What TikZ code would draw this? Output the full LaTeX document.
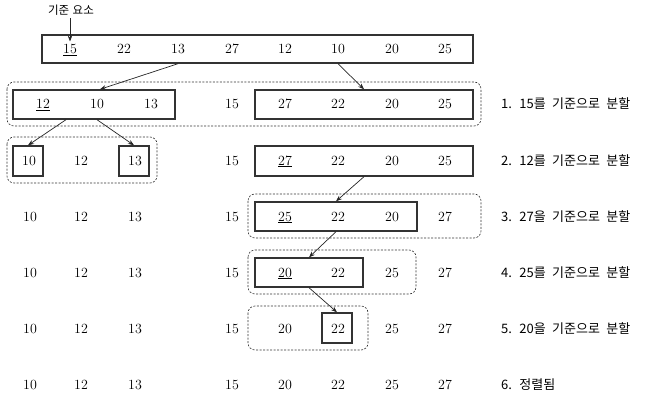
\documentclass[tikz,border=0pt]{standalone}
\usepackage{fontspec}
\usepackage{tikz}
\usetikzlibrary{arrows.meta}
\newfontfamily\kor[WordSpace=2.2]{Noto Sans CJK KR}
\begin{document}
\begin{tikzpicture}[x=1pt,y=-1pt,
  num/.style={font=\fontsize{14}{16}\selectfont, inner sep=0pt, anchor=base},
  lbl/.style={font=\kor\fontsize{13}{15}\selectfont, inner sep=0pt, anchor=base west},
  box/.style={draw=black!80, line width=1.4pt, inner sep=0pt},
  grp/.style={draw=black!80, dash pattern=on 2pt off 1.5pt, rounded corners=7pt, line width=0.6pt},
  arr/.style={-{Stealth[length=6pt,width=4.5pt]}, line width=0.7pt, draw=black!85}]
\useasboundingbox (0,0) rectangle (647,401);

% start
\node[font=\kor\fontsize{11.5}{13}\selectfont, inner sep=0pt] (piv) at (71,10) {기준\kern3.5pt 요소};
\node[num] (t15) at (70,54) {\underline{15}};
\node[num] (t22) at (124,54) {22};
\node[num] (t13) at (178,54) {13};
\node[num] (t27) at (232,54) {27};
\node[num] (t12) at (285,54) {12};
\node[num] (t10) at (338,54) {10};
\node[num] (t20) at (392,54) {20};
\node[num] (t25) at (445,54) {25};
\node[box, minimum width=431pt, minimum height=28pt] (top) at (257.5,49) {};
\draw[arr] ([yshift=-3pt]piv.south -| t15) -- ([yshift=3pt]t15.north);

% level 1
\node[num] (a12) at (43,109) {\underline{12}};
\node[num] (a10) at (97,109) {10};
\node[num] (a13) at (151,109) {13};
\node[num] (a15) at (232,109) {15};
\node[num] (a27) at (285,109) {27};
\node[num] (a22) at (338,109) {22};
\node[num] (a20) at (392,109) {20};
\node[num] (a25) at (445,109) {25};
\node[box, minimum width=162pt, minimum height=29pt] (L1) at (94,104.5) {};
\node[box, minimum width=218pt, minimum height=29pt] (R1) at (364,104.5) {};
\draw[grp] (7,82) rectangle (481,126);
\node[lbl] (s1) at (501,109) {1. 15를 기준으로 분할};
\draw[arr] (top.south -| t13) -- ([xshift=6pt]L1.north);
\draw[arr] (top.south -| t10) -- (R1.north);

% level 2
\node[num] (b10) at (29,165) {10};
\node[num] (b12) at (81,165) {12};
\node[num] (b13) at (135,165) {13};
\node[num] (b15) at (232,165) {15};
\node[num] (b27) at (285,165) {\underline{27}};
\node[num] (b22) at (338,165) {22};
\node[num] (b20) at (392,165) {20};
\node[num] (b25) at (445,165) {25};
\node[box, minimum width=30pt, minimum height=30pt] (S10) at (28,161) {};
\node[box, minimum width=30pt, minimum height=30pt] (S13) at (134,161) {};
\node[box, minimum width=218pt, minimum height=30pt] (R2) at (364,161) {};
\draw[grp] (7,137) rectangle (157,183);
\node[lbl] (s2) at (501,165) {2. 12를 기준으로 분할};
\draw[arr] (L1.south -| 66,0) -- (S10.north);
\draw[arr] (L1.south -| a10) -- (S13.north);

% level 3
\node[num] (c10) at (30,221) {10};
\node[num] (c12) at (81,221) {12};
\node[num] (c13) at (135,221) {13};
\node[num] (c15) at (232,221) {15};
\node[num] (c25) at (285,221) {\underline{25}};
\node[num] (c22) at (338,221) {22};
\node[num] (c20) at (392,221) {20};
\node[num] (c27) at (445,221) {27};
\node[box, minimum width=162pt, minimum height=29pt] (R3) at (336,216.5) {};
\draw[grp] (248,194) rectangle (481,238);
\node[lbl] (s3) at (501,221) {3. 27을 기준으로 분할};
\draw[arr] (R2.south) -- (R3.north);

% level 4
\node[num] (d10) at (30,277) {10};
\node[num] (d12) at (81,277) {12};
\node[num] (d13) at (135,277) {13};
\node[num] (d15) at (232,277) {15};
\node[num] (d20) at (285,277) {\underline{20}};
\node[num] (d22) at (338,277) {22};
\node[num] (d25) at (392,277) {25};
\node[num] (d27) at (445,277) {27};
\node[box, minimum width=108pt, minimum height=29pt] (R4) at (309,272.5) {};
\draw[grp] (248,250) rectangle (416,294);
\node[lbl] (s4) at (501,277) {4. 25를 기준으로 분할};
\draw[arr] (R3.south) -- (R4.north);

% level 5
\node[num] (e10) at (30,333) {10};
\node[num] (e12) at (81,333) {12};
\node[num] (e13) at (135,333) {13};
\node[num] (e15) at (232,333) {15};
\node[num] (e20) at (285,333) {20};
\node[num] (e22) at (338,333) {22};
\node[num] (e25) at (392,333) {25};
\node[num] (e27) at (445,333) {27};
\node[box, minimum width=30pt, minimum height=30pt] (S22) at (337,328) {};
\draw[grp] (248,306) rectangle (368,350);
\node[lbl] (s5) at (501,333) {5. 20을 기준으로 분할};
\draw[arr] (R4.south) -- (S22.north);

% level 6
\node[num] (f10) at (30,389) {10};
\node[num] (f12) at (81,389) {12};
\node[num] (f13) at (135,389) {13};
\node[num] (f15) at (232,389) {15};
\node[num] (f20) at (285,389) {20};
\node[num] (f22) at (338,389) {22};
\node[num] (f25) at (392,389) {25};
\node[num] (f27) at (445,389) {27};
\node[lbl] (s6) at (501,389) {6. 정렬됨};
\end{tikzpicture}
\end{document}
